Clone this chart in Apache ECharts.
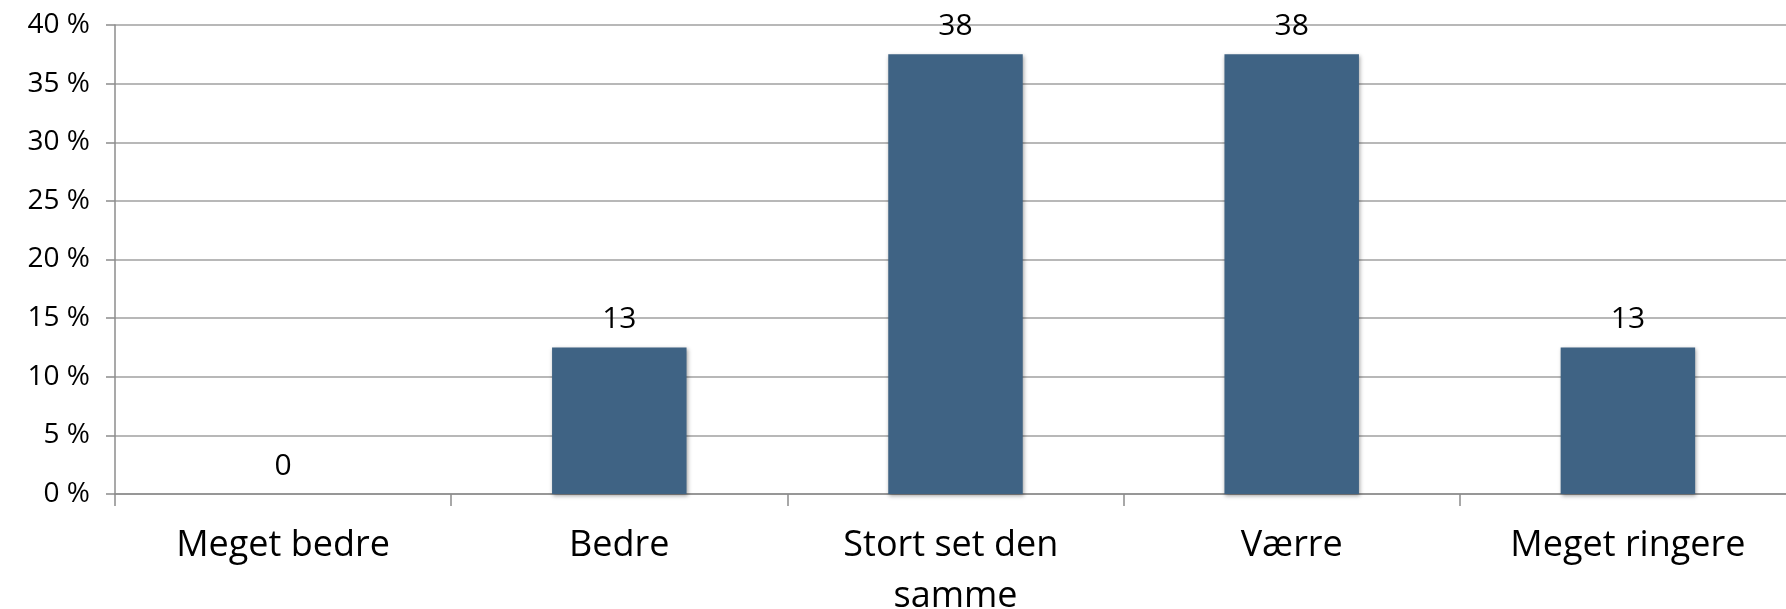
<!DOCTYPE html>
<html>
<head>
<meta charset="utf-8">
<script src="https://cdn.jsdelivr.net/npm/echarts@6/dist/echarts.min.js"></script>
<style>
html,body{margin:0;padding:0;background:#fff;}
#chart{width:1786px;height:609px;}
</style>
</head>
<body>
<div id="chart"></div>
<script>
const categories = ['Meget bedre', 'Bedre', 'Stort set den samme', 'Værre', 'Meget ringere'];
const values = [0, 12.5, 37.5, 37.5, 12.5];
const yTicks = { min: 0, max: 40, interval: 5 };

const FONT = '"Open Sans", "Noto Sans", sans-serif';
const chart = echarts.init(document.getElementById('chart'), null, { renderer: 'canvas' });
chart.setOption({
  animation: false,
  backgroundColor: '#ffffff',
  grid: { left: 115, right: -10, top: 25, bottom: 115, containLabel: false, outerBoundsMode: 'none' },
  xAxis: {
    type: 'category',
    data: categories,
    axisLine: { show: true, lineStyle: { color: '#8c8c8c', width: 1.5 } },
    axisTick: { show: true, alignWithLabel: false, length: 12, lineStyle: { color: '#8c8c8c', width: 1.5 } },
    axisLabel: {
      interval: 0,
      margin: 26,
      color: '#000',
      fontFamily: FONT,
      fontSize: 36,
      lineHeight: 51,
      width: 290,
      overflow: 'break'
    },
    splitLine: { show: false }
  },
  yAxis: {
    type: 'value',
    min: yTicks.min,
    max: yTicks.max,
    interval: yTicks.interval,
    axisLine: { show: true, lineStyle: { color: '#8c8c8c', width: 1.5 } },
    axisTick: { show: true, length: 9, lineStyle: { color: '#8c8c8c', width: 1.5 } },
    axisLabel: {
      formatter: '{value} %',
      color: '#000',
      fontFamily: FONT,
      fontSize: 28,
      margin: 25
    },
    splitLine: { show: true, lineStyle: { color: '#a0a0a0', width: 1.5 } }
  },
  series: [{
    type: 'bar',
    data: values,
    barWidth: '40%',
    itemStyle: {
      color: '#3f6384',
      shadowColor: 'rgba(0,0,0,0.35)',
      shadowBlur: 4,
      shadowOffsetX: 1,
      shadowOffsetY: 2
    },
    label: {
      show: true,
      position: 'top',
      distance: 13,
      color: '#000',
      fontFamily: FONT,
      fontSize: 30,
      formatter: p => String(Math.round(p.value))
    }
  }]
});
</script>
</body>
</html>
